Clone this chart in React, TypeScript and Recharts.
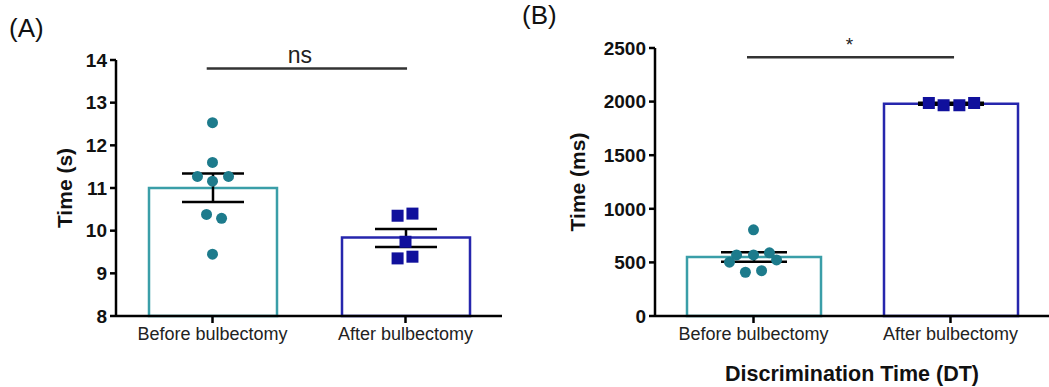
import React from "react";
import { ComposedChart, Bar, Scatter, XAxis, YAxis, ErrorBar, ReferenceLine, Cell } from "recharts";

const groups = ["Before bulbectomy", "After bulbectomy"];

// Panel A - time (s)
const meanA = [11.0, 9.84];
const errA = [
  [0.33, 0.34],
  [0.22, 0.2],
];
const beforeA = [12.53, 11.6, 11.27, 11.16, 11.27, 10.38, 10.29, 9.45];
const beforeJitA = [0, 0, -0.078, 0, 0.083, -0.031, 0.047, 0];
const afterA = [10.35, 10.4, 9.74, 9.35, 9.39];
const afterJitA = [-0.041, 0.036, 0, -0.041, 0.036];
const ticksA = [8, 9, 10, 11, 12, 13, 14];

// Panel B - discrimination time (ms)
const meanB = [550, 1980];
const errB = [
  [45, 45],
  [10, 10],
];
const beforeB = [804, 570, 570, 589, 502, 523, 408, 423];
const beforeJitB = [0, -0.086, 0, 0.081, -0.122, 0.117, -0.041, 0.041];
const afterB = [1987, 1966, 1966, 1987];
const afterJitB = [-0.11, -0.035, 0.045, 0.12];
const ticksB = [0, 500, 1000, 1500, 2000, 2500];

const TEAL_BAR = "#3a9ea8";
const TEAL_DOT = "#1d7b8c";
const BLUE_BAR = "#2626ad";
const BLUE_DOT = "#10109c";
const FONT = "'Liberation Sans', Arial, sans-serif";

const toPoints = (vals: number[], jit: number[], center: number) =>
  vals.map((v, i) => ({ x: center + jit[i], y: v }));

const Dot = (p: any) => <circle cx={p.cx} cy={p.cy} r={5.5} fill={TEAL_DOT} />;
const Sq = (p: any) => <rect x={p.cx - 6} y={p.cy - 6} width={12} height={12} fill={BLUE_DOT} />;

interface PanelProps {
  width: number;
  left: number;
  top: number;
  right: number;
  yWidth: number;
  labelOffset: number;
  means: number[];
  errs: number[][];
  before: { x: number; y: number }[];
  after: { x: number; y: number }[];
  ticks: number[];
  yLabel: string;
  sigY: number;
  sigX: [number, number];
  sigText: string;
  sigSize: number;
  sigDx: number;
  barSize: number;
  cap: number;
  xLabel?: string;
}

const Panel: React.FC<PanelProps> = (p) => {
  const data = groups.map((g, i) => ({ name: g, mean: p.means[i], err: p.errs[i] }));
  const axisStyle = { stroke: "#000", strokeWidth: 2.5 };
  return (
    <div style={{ position: "absolute", left: p.left, top: 0 }}>
      <ComposedChart
        width={p.width}
        height={387}
        data={data}
        margin={{ top: p.top, right: p.right, bottom: 0, left: 0 }}
      >
        <XAxis
          xAxisId="cat"
          dataKey="name"
          height={71}
          axisLine={axisStyle}
          tickLine={axisStyle}
          tickSize={7}
          tickMargin={4}
          tick={{ fill: "#222", fontSize: 18, fontFamily: FONT }}
          label={
            p.xLabel
              ? {
                  value: p.xLabel,
                  position: "insideBottom",
                  offset: 6,
                  style: { fill: "#111", fontSize: 21.5, fontWeight: "bold", fontFamily: FONT },
                }
              : undefined
          }
        />
        <XAxis xAxisId="num" dataKey="x" type="number" domain={[0, 2]} hide allowDataOverflow />
        <YAxis
          width={p.yWidth}
          domain={[p.ticks[0], p.ticks[p.ticks.length - 1]]}
          ticks={p.ticks}
          interval={0}
          axisLine={axisStyle}
          tickLine={axisStyle}
          tickSize={6}
          tickMargin={3}
          tick={{ fill: "#111", fontSize: 19, fontWeight: "bold", fontFamily: FONT }}
          label={{
            value: p.yLabel,
            angle: -90,
            position: "insideLeft",
            offset: p.labelOffset,
            style: { textAnchor: "middle", fill: "#111", fontSize: 21, fontWeight: "bold", fontFamily: FONT },
          }}
        />
        <Scatter xAxisId="num" data={p.before} dataKey="y" shape={Dot} isAnimationActive={false} />
        <Scatter xAxisId="num" data={p.after} dataKey="y" shape={Sq} isAnimationActive={false} />
        <Bar xAxisId="cat" dataKey="mean" barSize={p.barSize} fill="none" strokeWidth={2.5} isAnimationActive={false}>
          <Cell stroke={TEAL_BAR} />
          <Cell stroke={BLUE_BAR} />
          <ErrorBar dataKey="err" width={p.cap} stroke="#000" strokeWidth={2.5} direction="y" />
        </Bar>
        <ReferenceLine
          xAxisId="num"
          segment={[
            { x: p.sigX[0], y: p.sigY },
            { x: p.sigX[1], y: p.sigY },
          ]}
          stroke="#333"
          strokeWidth={2.5}
          label={{
            value: p.sigText,
            position: "top",
            offset: 6,
            dx: p.sigDx,
            style: { fill: "#222", fontSize: p.sigSize, fontFamily: FONT },
          }}
        />
      </ComposedChart>
    </div>
  );
};

export default function App() {
  return (
    <div style={{ position: "absolute", left: 0, top: 0, width: 1049, height: 387, background: "#fff" }}>
      <Panel
        width={520}
        left={0}
        top={60}
        right={18}
        yWidth={116}
        labelOffset={65}
        means={meanA}
        errs={errA}
        before={toPoints(beforeA, beforeJitA, 0.5)}
        after={toPoints(afterA, afterJitA, 1.5)}
        ticks={ticksA}
        yLabel="Time (s)"
        sigY={13.8}
        sigX={[0.47, 1.508]}
        sigText="ns"
        sigSize={23}
        sigDx={-7}
        barSize={128}
        cap={31}
      />
      <Panel
        width={529}
        left={520}
        top={48}
        right={0}
        yWidth={135}
        labelOffset={58}
        means={meanB}
        errs={errB}
        before={toPoints(beforeB, beforeJitB, 0.5)}
        after={toPoints(afterB, afterJitB, 1.5)}
        ticks={ticksB}
        yLabel="Time (ms)"
        sigY={2414}
        sigX={[0.467, 1.518]}
        sigText="*"
        sigSize={19}
        sigDx={-1}
        barSize={134}
        cap={33}
        xLabel="Discrimination Time (DT)"
      />
      <div style={{ position: "absolute", left: 9, top: 15, fontSize: 26, lineHeight: 1, fontFamily: FONT, color: "#111" }}>
        (A)
      </div>
      <div style={{ position: "absolute", left: 522, top: 2, fontSize: 26, lineHeight: 1, fontFamily: FONT, color: "#111" }}>
        (B)
      </div>
    </div>
  );
}
